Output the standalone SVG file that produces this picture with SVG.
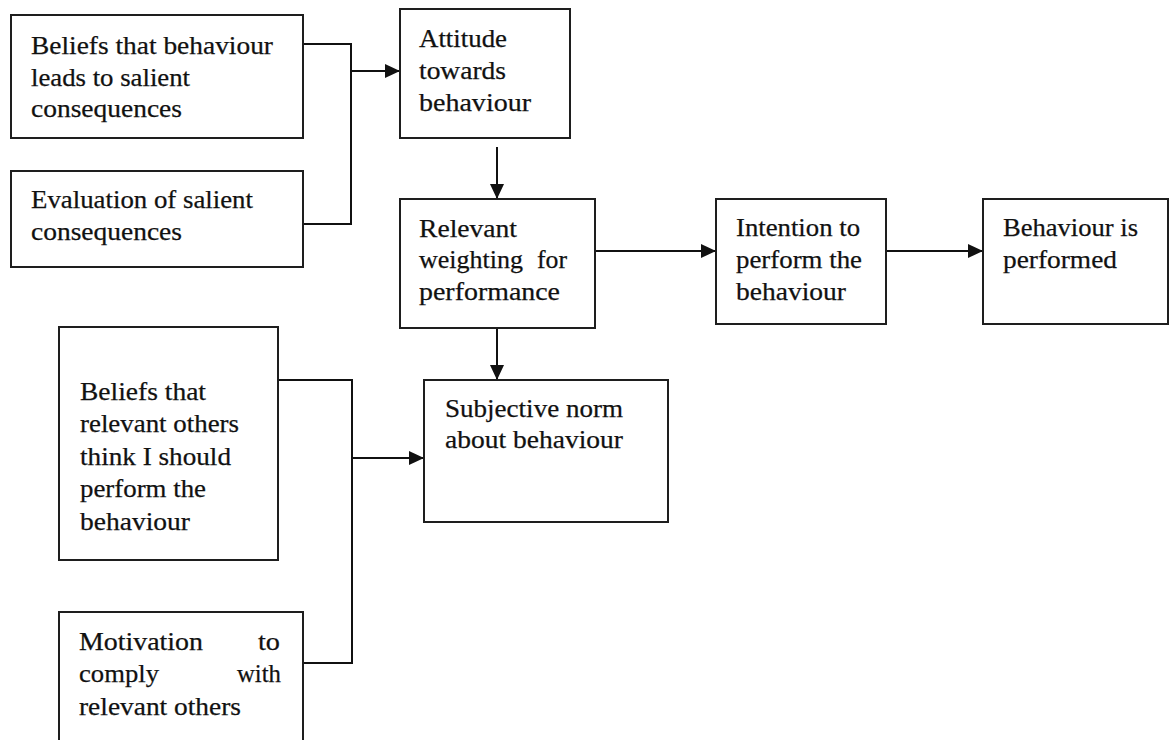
<svg xmlns="http://www.w3.org/2000/svg" width="1170" height="740" viewBox="0 0 1170 740">
  <style>
    .box { fill: #ffffff; stroke: #1e1e1e; stroke-width: 2; }
    .lbl { font-family: "Liberation Serif", "Times New Roman", serif; font-size: 26px; fill: #111111; stroke: #111111; stroke-width: 0.25; }
    .wire { fill: none; stroke: #111111; stroke-width: 2; }
    .arrow { fill: none; stroke: #111111; stroke-width: 2; marker-end: url(#head); }
  </style>
  <defs>
    <marker id="head" viewBox="0 0 15 14" refX="15" refY="7" markerWidth="15" markerHeight="14" markerUnits="userSpaceOnUse" orient="auto">
      <path d="M0,0 L15,7 L0,14 Z" fill="#111111"/>
    </marker>
  </defs>
  <rect width="1170" height="740" fill="#ffffff"/>

  <!-- connectors -->
  <g id="connectors">
    <polyline class="wire" points="303,44 351,44 351,224 303,224"/>
    <line class="arrow" x1="351" y1="71" x2="400" y2="71"/>
    <line class="arrow" x1="497" y1="147" x2="497" y2="199"/>
    <line class="arrow" x1="595" y1="251" x2="716" y2="251"/>
    <line class="arrow" x1="886" y1="251" x2="983" y2="251"/>
    <line class="arrow" x1="497" y1="328" x2="497" y2="380"/>
    <polyline class="wire" points="278,380 352,380 352,663 303,663"/>
    <line class="arrow" x1="352" y1="458" x2="424" y2="458"/>
  </g>

  <!-- nodes -->
  <g id="beliefs-consequences">
    <rect class="box" x="11" y="15" width="292" height="123"/>
    <text class="lbl" x="31" y="54" textLength="242" lengthAdjust="spacingAndGlyphs">Beliefs that behaviour</text>
    <text class="lbl" x="31" y="86" textLength="159" lengthAdjust="spacingAndGlyphs">leads to salient</text>
    <text class="lbl" x="31" y="117" textLength="151" lengthAdjust="spacingAndGlyphs">consequences</text>
  </g>

  <g id="evaluation">
    <rect class="box" x="11" y="171" width="292" height="96"/>
    <text class="lbl" x="31" y="208" textLength="222" lengthAdjust="spacingAndGlyphs">Evaluation of salient</text>
    <text class="lbl" x="31" y="240" textLength="151" lengthAdjust="spacingAndGlyphs">consequences</text>
  </g>

  <g id="attitude">
    <rect class="box" x="400" y="9" width="170" height="129"/>
    <text class="lbl" x="419" y="47" textLength="88" lengthAdjust="spacingAndGlyphs">Attitude</text>
    <text class="lbl" x="419" y="79" textLength="87" lengthAdjust="spacingAndGlyphs">towards</text>
    <text class="lbl" x="419" y="111" textLength="112" lengthAdjust="spacingAndGlyphs">behaviour</text>
  </g>

  <g id="weighting">
    <rect class="box" x="400" y="199" width="195" height="129"/>
    <text class="lbl" x="419" y="237" textLength="98" lengthAdjust="spacingAndGlyphs">Relevant</text>
    <text class="lbl" x="419" y="268" textLength="104" lengthAdjust="spacingAndGlyphs">weighting</text>
    <text class="lbl" x="537" y="268" textLength="30" lengthAdjust="spacingAndGlyphs">for</text>
    <text class="lbl" x="419" y="300" textLength="141" lengthAdjust="spacingAndGlyphs">performance</text>
  </g>

  <g id="intention">
    <rect class="box" x="716" y="199" width="170" height="125"/>
    <text class="lbl" x="736" y="236" textLength="124" lengthAdjust="spacingAndGlyphs">Intention to</text>
    <text class="lbl" x="736" y="268" textLength="126" lengthAdjust="spacingAndGlyphs">perform the</text>
    <text class="lbl" x="736" y="300" textLength="110" lengthAdjust="spacingAndGlyphs">behaviour</text>
  </g>

  <g id="behaviour-performed">
    <rect class="box" x="983" y="199" width="185" height="125"/>
    <text class="lbl" x="1003" y="236" textLength="135" lengthAdjust="spacingAndGlyphs">Behaviour is</text>
    <text class="lbl" x="1003" y="268" textLength="114" lengthAdjust="spacingAndGlyphs">performed</text>
  </g>

  <g id="beliefs-others">
    <rect class="box" x="59" y="327" width="219" height="233"/>
    <text class="lbl" x="80" y="400" textLength="126" lengthAdjust="spacingAndGlyphs">Beliefs that</text>
    <text class="lbl" x="80" y="432" textLength="159" lengthAdjust="spacingAndGlyphs">relevant others</text>
    <text class="lbl" x="80" y="465" textLength="151" lengthAdjust="spacingAndGlyphs">think I should</text>
    <text class="lbl" x="80" y="497" textLength="126" lengthAdjust="spacingAndGlyphs">perform the</text>
    <text class="lbl" x="80" y="530" textLength="110" lengthAdjust="spacingAndGlyphs">behaviour</text>
  </g>

  <g id="motivation">
    <rect class="box" x="59" y="612" width="244" height="140"/>
    <text class="lbl" x="79" y="650" textLength="124" lengthAdjust="spacingAndGlyphs">Motivation</text>
    <text class="lbl" x="258" y="650" textLength="22" lengthAdjust="spacingAndGlyphs">to</text>
    <text class="lbl" x="79" y="682" textLength="80" lengthAdjust="spacingAndGlyphs">comply</text>
    <text class="lbl" x="237" y="682" textLength="44" lengthAdjust="spacingAndGlyphs">with</text>
    <text class="lbl" x="79" y="715" textLength="162" lengthAdjust="spacingAndGlyphs">relevant others</text>
  </g>

  <g id="subjective-norm">
    <rect class="box" x="424" y="380" width="244" height="142"/>
    <text class="lbl" x="445" y="417" textLength="178" lengthAdjust="spacingAndGlyphs">Subjective norm</text>
    <text class="lbl" x="445" y="448" textLength="178" lengthAdjust="spacingAndGlyphs">about behaviour</text>
  </g>
</svg>
